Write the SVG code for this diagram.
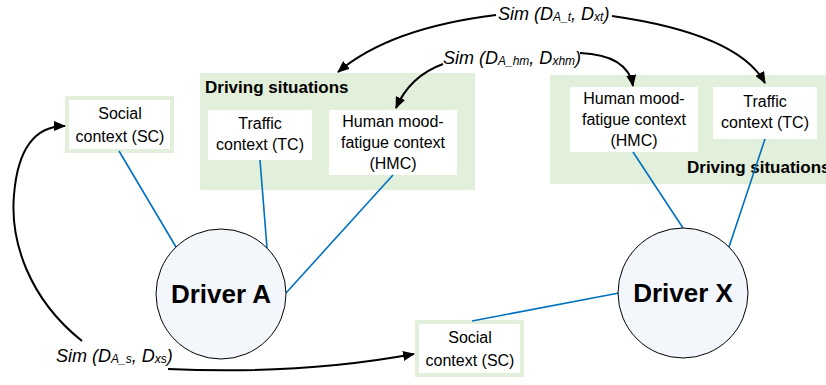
<svg xmlns="http://www.w3.org/2000/svg" width="826" height="385" viewBox="0 0 826 385">
<defs>
<style>
.grp{fill:#E2EFDA;}
.box{fill:#FFFFFF;}
.sc{fill:#FFFFFF;stroke:#E2EFDA;stroke-width:4;}
.t{font-family:"Liberation Sans",Arial,sans-serif;font-size:16px;fill:#000;text-anchor:middle;}
.h{font-family:"Liberation Sans",Arial,sans-serif;font-size:17px;font-weight:bold;fill:#000;}
.drv{fill:#F3F6FA;stroke:#000;stroke-width:1;}
.dt{font-family:"Liberation Sans",Arial,sans-serif;font-size:26px;font-weight:bold;fill:#000;text-anchor:middle;}
.sim{font-family:"Liberation Sans",Arial,sans-serif;font-size:18px;font-style:italic;fill:#000;}
.sub{font-size:12px;}
.blue{stroke:#0070C0;stroke-width:1.6;fill:none;}
.arr{stroke:#000;stroke-width:2;fill:none;marker-end:url(#ah);}
</style>
<marker id="ah" markerUnits="userSpaceOnUse" markerWidth="12" markerHeight="10" refX="11" refY="5" orient="auto">
<path d="M0,0 L12,5 L0,10 z" fill="#000"/>
</marker>
</defs>

<g id="driving-situations-A">
<rect class="grp" x="200" y="73" width="275" height="117"/>
<text class="h" x="205" y="93">Driving situations</text>
</g>
<g id="tc-A">
<rect class="box" x="208" y="110" width="104" height="50"/>
<text class="t" x="260" y="129">Traffic</text>
<text class="t" x="260" y="150">context (TC)</text>
</g>
<g id="hmc-A">
<rect class="box" x="329" y="110" width="128" height="65"/>
<text class="t" x="393" y="127">Human mood-</text>
<text class="t" x="393" y="148">fatigue context</text>
<text class="t" x="393" y="169">(HMC)</text>
</g>

<g id="driving-situations-X">
<rect class="grp" x="550" y="75" width="280" height="109"/>
<text class="h" x="687" y="173">Driving situations</text>
</g>
<g id="hmc-X">
<rect class="box" x="570" y="87" width="128" height="65"/>
<text class="t" x="634" y="104">Human mood-</text>
<text class="t" x="634" y="125">fatigue context</text>
<text class="t" x="634" y="146">(HMC)</text>
</g>
<g id="tc-X">
<rect class="box" x="713" y="87" width="104" height="52"/>
<text class="t" x="765" y="107">Traffic</text>
<text class="t" x="765" y="128">context (TC)</text>
</g>

<g id="sc-A">
<rect class="sc" x="67" y="98" width="105" height="53"/>
<text class="t" x="120" y="119">Social</text>
<text class="t" x="120" y="142">context (SC)</text>
</g>
<g id="sc-X">
<rect class="sc" x="417" y="322" width="105" height="53"/>
<text class="t" x="470" y="343">Social</text>
<text class="t" x="470" y="366">context (SC)</text>
</g>

<g id="connectors">
<line class="blue" x1="119" y1="151" x2="176" y2="247"/>
<line class="blue" x1="260" y1="160" x2="267" y2="248"/>
<line class="blue" x1="393" y1="175" x2="286" y2="293"/>
<line class="blue" x1="633" y1="152" x2="683" y2="228"/>
<line class="blue" x1="765" y1="139" x2="729" y2="247"/>
<line class="blue" x1="472" y1="321" x2="619" y2="293"/>
<path class="arr" d="M496,15 Q390,28 338,72"/>
<path class="arr" d="M612,16 Q738,34 765,83"/>
<path class="arr" d="M443,64 Q410,76 396,108"/>
<path class="arr" d="M580,53 Q628,55 633,86"/>
<path class="arr" d="M82,341 C28,298 10,240 14,195 C18,145 38,126 65,126"/>
<path class="arr" d="M168,369 Q300,375 414,354"/>
</g>

<g id="driver-A">
<circle class="drv" cx="221" cy="294" r="65"/>
<text class="dt" x="221" y="303">Driver A</text>
</g>
<g id="driver-X">
<circle class="drv" cx="683" cy="293" r="65"/>
<text class="dt" x="683" y="302">Driver X</text>
</g>

<g id="sim-t">
<text class="sim" x="498" y="20">Sim (D<tspan class="sub" dy="1">A_t</tspan><tspan dy="-1">, D</tspan><tspan class="sub" dy="1">xt</tspan><tspan dy="-1">)</tspan></text>
</g>
<g id="sim-hm">
<text class="sim" x="443" y="64">Sim (D<tspan class="sub" dy="1">A_hm</tspan><tspan dy="-1">, D</tspan><tspan class="sub" dy="1">xhm</tspan><tspan dy="-1">)</tspan></text>
</g>
<g id="sim-s">
<text class="sim" x="56" y="362">Sim (D<tspan class="sub" dy="1">A_s</tspan><tspan dy="-1">, D</tspan><tspan class="sub" dy="1">xs</tspan><tspan dy="-1">)</tspan></text>
</g>
</svg>
